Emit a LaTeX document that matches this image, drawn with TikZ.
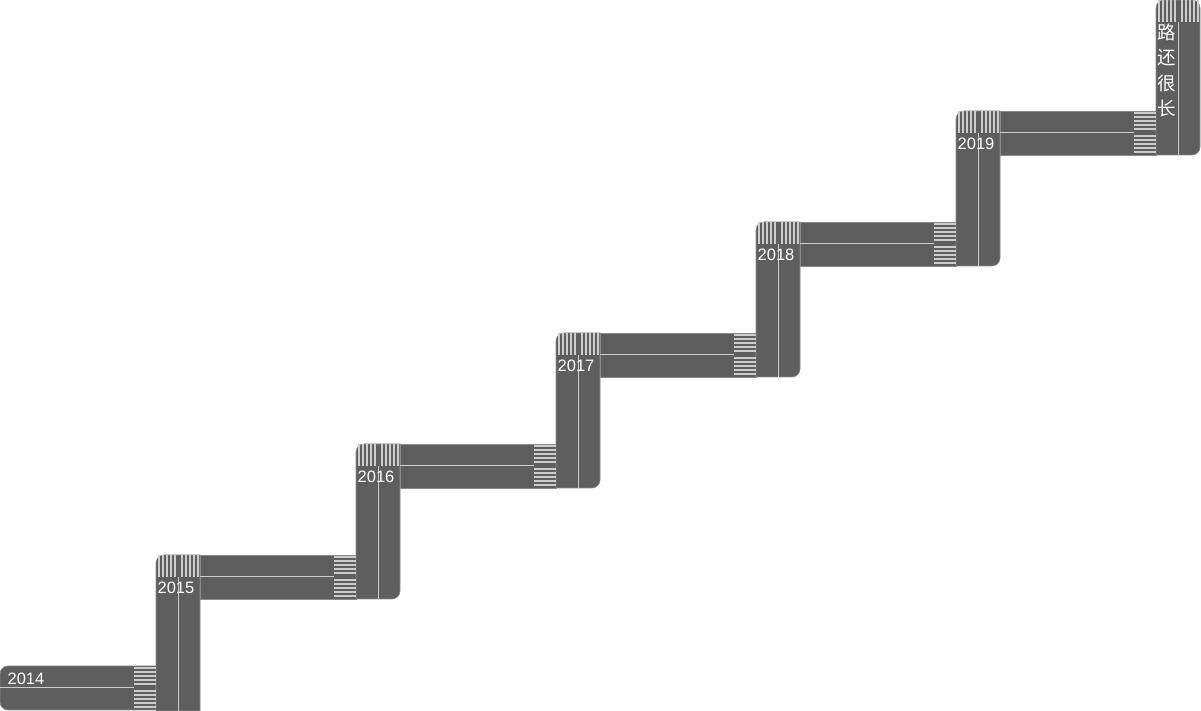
\documentclass[tikz,border=0pt]{standalone}
\usepackage{fontspec}
\setmainfont{Liberation Sans}
\newfontfamily\cjk{Noto Sans CJK SC}
\definecolor{asphalt}{RGB}{94,94,94}
\definecolor{paint}{RGB}{204,204,204}
\definecolor{curb}{RGB}{138,138,138}
\tikzstyle{road}=[fill=asphalt,draw=curb,line width=0.6pt]
\tikzstyle{lane}=[draw=paint,line width=1pt]
\tikzstyle{zebra}=[draw=paint,line width=2pt]
\tikzstyle{year}=[text=white,inner sep=0pt,font=\fontsize{16.5}{16.5}\selectfont]
\tikzstyle{motto}=[text=white,inner sep=0pt,align=center,
                   font=\cjk\fontsize{18.5}{25.5}\selectfont]
% zebra crossings of one step, in the step's own coordinates
\def\crossing{
  \foreach \d in {3.5,7.5,11.5,15.5,19.5} {
    \draw[zebra] (134,23-\d) -- (156,23-\d);
    \draw[zebra] (134,23+\d) -- (156,23+\d);
    \draw[zebra] (178-\d,134) -- (178-\d,156);
    \draw[zebra] (178+\d,134) -- (178+\d,156);
  }
}

\begin{document}
\begin{tikzpicture}[x=1pt,y=1pt]
  \useasboundingbox (0,0) rectangle (1201,711);

  % first step
  \draw[road] (156,1) -- (8,1) arc(270:180:8) -- (0,37) arc(180:90:8)
              -- (156,45) -- cycle;
  \draw[road] (156,0) -- (156,148) arc(180:90:8) -- (200,156) -- (200,0) -- cycle;
  \draw[lane] (0,23) -- (134,23);
  \draw[lane] (178,0) -- (178,134);
  \crossing

  % middle steps
  \foreach \k in {1,...,4} {
    \begin{scope}[shift={(200*\k,111*\k)}]
      \draw[road] (0,1) rectangle (156,45);
      \draw[road] (156,1) -- (156,148) arc(180:90:8) -- (200,156)
                  -- (200,9) arc(0:-90:8) -- cycle;
      \draw[lane] (0,23) -- (134,23);
      \draw[lane] (178,1) -- (178,134);
      \crossing
    \end{scope}
  }

  % last step
  \begin{scope}[shift={(1000,555)}]
    \draw[road] (0,1) rectangle (156,45);
    \draw[road] (156,1) -- (156,148) arc(180:90:8) -- (192,156) arc(90:0:8)
                -- (200,9) arc(0:-90:8) -- cycle;
    \draw[lane] (0,23) -- (134,23);
    \draw[lane] (178,1) -- (178,134);
    \crossing
  \end{scope}

  \node[year] (y2014) at (26,32) {2014};
  \node[year] (y2015) at (176,123) {2015};
  \node[year] (y2016) at (376,234) {2016};
  \node[year] (y2017) at (576,345) {2017};
  \node[year] (y2018) at (776,456) {2018};
  \node[year] (y2019) at (976,567) {2019};
  \node[motto] (road) at (1166.5,640.5) {路\\还\\很\\长};
\end{tikzpicture}
\end{document}
